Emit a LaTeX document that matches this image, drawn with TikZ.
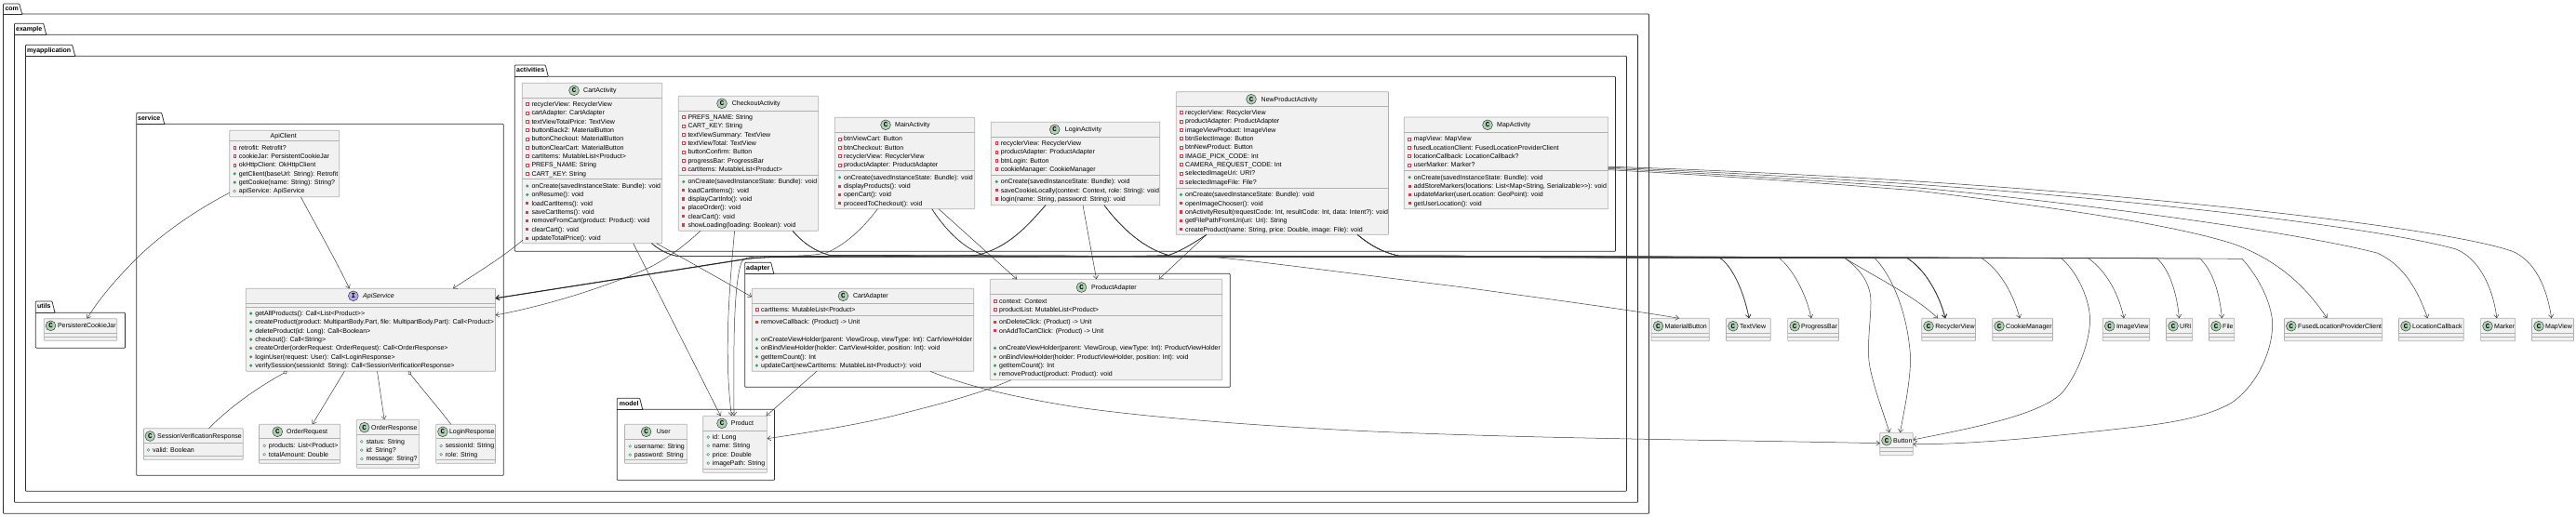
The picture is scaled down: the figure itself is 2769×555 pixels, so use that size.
\documentclass[tikz,border=0pt]{standalone}
\usepackage{fontspec}
\setmainfont{Liberation Sans}
\newfontfamily\umlmono{Liberation Mono}
\usetikzlibrary{arrows.meta}
\definecolor{boxfill}{HTML}{F1F1F1}
\definecolor{boxline}{HTML}{B0B0B0}
\definecolor{pkgline}{HTML}{303030}
\definecolor{connline}{HTML}{3C3C3C}
\definecolor{iconC}{HTML}{ADD1B2}
\definecolor{iconI}{HTML}{B4A7E5}
\definecolor{priv}{HTML}{D93A4C}
\definecolor{pub}{HTML}{3F9A68}
\tikzset{
  classbox/.style={draw=boxline,fill=boxfill,line width=.7pt,rounded corners=.8pt,inner sep=0pt,outer sep=0pt,anchor=north west},
  divider/.style={draw=boxline,line width=.7pt},
  pkgpath/.style={draw=pkgline,line width=.75pt,rounded corners=.8pt},
  pkgtitle/.style={font=\fontsize{7}{8}\selectfont\bfseries,anchor=base west,inner sep=0pt},
  classname/.style={font=\fontsize{7}{8}\selectfont,anchor=base west,inner sep=0pt},
  membertext/.style={font=\fontsize{7}{8}\selectfont,anchor=base west,inner sep=0pt},
  badge/.style={circle,draw=black!80,line width=.45pt,minimum size=10.8pt,inner sep=0pt,font=\fontsize{7.5}{8}\selectfont\umlmono\bfseries},
  conn/.style={draw=connline,line width=.5pt,-{Straight Barb[length=3.6pt,width=5.4pt]}},
  agg/.style={draw=connline,line width=.5pt,{Diamond[open,fill=white,length=5pt,width=4pt]}-},
  heavy/.style={line width=.8pt,draw=black!85}
}
\newcounter{umlc}
\newcommand\umlpkg[7]{% L tt T R B tabright title-x title
}
\newcommand\umlpackage[8]{% L,tt,T,R,B,tabR,textX,title
  \draw[pkgpath] (#1,#2) -- ({#6-3},#2) -- (#6,#3) -- (#4,#3) -- (#4,#5) -- (#1,#5) -- cycle;
  \draw[pkgpath] (#1,#3) -- (#6,#3);
  \stepcounter{umlc}
  \node[pkgtitle] (pk\arabic{umlc}) at (#7,{#2+7.7}) {#8};
}
\newcommand\umlbox[5]{% id x1 y1 x2 y2
  \pgfmathsetmacro\umlw{#4-#2}\pgfmathsetmacro\umlh{#5-#3}
  \node[classbox,minimum width=\umlw pt,minimum height=\umlh pt] (#1) at (#2,#3) {};
}
\newcommand\umldiv[3]{\draw[divider] (#1,#3) -- (#2,#3);}
\newcommand\umlhead[5]{% iconx icony letter namex name
  \stepcounter{umlc}
  \node[badge,fill=icon#3] (ic\arabic{umlc}) at (#1,#2) {#3};
  \node[classname] (nm\arabic{umlc}) at (#4,{#2+2.5}) {#5};
}
\newcommand\mstart[2]{\xdef\umlrx{#1}\xdef\umlry{#2}}
\newcommand\mgap{\pgfmathparse{\umlry+9.333}\xdef\umlry{\pgfmathresult}}
\newcommand\mrow[2]{%
  \stepcounter{umlc}
  \ifx#1f\draw[priv,line width=.55pt,fill=white] ({\umlrx-5.9},{\umlry-1.3}) rectangle ({\umlrx-3.1},{\umlry+1.5});\fi
  \ifx#1g\fill[priv] ({\umlrx-6.1},{\umlry-1.5}) rectangle ({\umlrx-2.9},{\umlry+1.7});\fi
  \ifx#1p\fill[pub] ({\umlrx-4.5},{\umlry+.1}) circle (1.7);\fi
  \ifx#1o\draw[pub,line width=.5pt,fill=white] ({\umlrx-4.5},{\umlry+.1}) circle (1.4);\fi
  \node[membertext] (mr\arabic{umlc}) at (\umlrx,{\umlry+2.5}) {#2};
  \mgap
}
\newcommand\freecls[3]{% id x1 x2 name
  \umlbox{#1}{#2}{342.3}{#3}{366.7}
  \umldiv{#2}{#3}{358.3}\umldiv{#2}{#3}{362.3}
}
\newcommand\freehead[3]{\umlhead{#1+7.4}{350.7}{C}{#1+14.5}{#3}}
\begin{document}
\begin{tikzpicture}[x=1pt,y=-1pt]
\useasboundingbox (0,0) rectangle (2769,555);
\fill[white] (0,0) rectangle (2769,555);
% packages
\umlpackage{3.5}{4}{15}{1772.5}{552.3}{23.7}{5.3}{com}
\umlpackage{15.5}{25.3}{37.3}{1760.5}{540.3}{49.7}{17}{example}
\umlpackage{27.5}{48.3}{60.3}{1748.4}{528.3}{80.7}{29}{myapplication}
\umlpackage{553.3}{70}{82.3}{1736.5}{270.3}{589.3}{555}{activities}
\umlpackage{146.7}{121.3}{133.3}{541.3}{511.3}{176.7}{148}{service}
\umlpackage{38.3}{324}{336.3}{134.5}{374.3}{59}{40}{utils}
\umlpackage{663.2}{428.3}{440.3}{832.5}{516.3}{690.7}{665.7}{model}
\umlpackage{800.7}{282.3}{294.3}{1322.3}{416.3}{831.8}{802}{adapter}

% ApiClient
\umlbox{apiclient}{246.7}{140.3}{364.7}{211.7}
\umldiv{246.7}{364.7}{151.7}
\node[classname] (apiclientname) at (290.5,148.5) {ApiClient};
\mstart{256.7}{158.7}
\mrow{f}{retrofit: Retrofit?}
\mrow{f}{cookieJar: PersistentCookieJar}
\mrow{f}{okHttpClient: OkHttpClient}
\mrow{p}{getClient(baseUrl: String): Retrofit}
\mrow{p}{getCookie(name: String): String?}
\mrow{o}{apiService: ApiService}

% ApiService
\umlbox{apiservice}{264.3}{310.3}{532.5}{399.3}
\umldiv{264.3}{532.5}{326.3}\umldiv{264.3}{532.5}{330.3}
\umlhead{379.8}{318.3}{I}{390}{\itshape ApiService}
\mstart{274.2}{337}
\mrow{p}{getAllProducts(): Call<List<Product>{}>}
\mrow{p}{createProduct(product: MultipartBody.Part, file: MultipartBody.Part): Call<Product>}
\mrow{p}{deleteProduct(id: Long): Call<Boolean>}
\mrow{p}{checkout(): Call<String>}
\mrow{p}{createOrder(orderRequest: OrderRequest): Call<OrderResponse>}
\mrow{p}{loginUser(request: User): Call<LoginResponse>}
\mrow{p}{verifySession(sessionId: String): Call<SessionVerificationResponse>}

% responses
\umlbox{svr}{154.4}{460.7}{261.2}{494.3}
\umldiv{154.4}{261.2}{476.3}\umldiv{154.4}{261.2}{490.3}
\umlhead{161.3}{469}{C}{169}{SessionVerificationResponse}
\mstart{164}{483.7}
\mrow{o}{valid: Boolean}

\umlbox{orderreq}{278.4}{456.3}{365.7}{498.3}
\umldiv{278.4}{365.7}{471.7}\umldiv{278.4}{365.7}{494.3}
\umlhead{298.3}{464.3}{C}{308}{OrderRequest}
\mstart{288.7}{479.3}
\mrow{o}{products: List<Product>}
\mrow{o}{totalAmount: Double}

\umlbox{orderresp}{383.3}{451.3}{450.6}{503.3}
\umldiv{383.3}{450.6}{467}\umldiv{383.3}{450.6}{499.3}
\umlhead{391.7}{459.7}{C}{399}{OrderResponse}
\mstart{393.3}{474.7}
\mrow{o}{status: String}
\mrow{o}{id: String?}
\mrow{o}{message: String?}

\umlbox{loginresp}{468.6}{456.3}{532.5}{498.3}
\umldiv{468.6}{532.5}{471.7}\umldiv{468.6}{532.5}{494.3}
\umlhead{475.9}{464.3}{C}{482.8}{LoginResponse}
\mstart{478.6}{479.3}
\mrow{o}{sessionId: String}
\mrow{o}{role: String}

% PersistentCookieJar
\umlbox{pcj}{47.3}{342.7}{125.7}{366.3}
\umldiv{47.3}{125.7}{358.3}\umldiv{47.3}{125.7}{362.3}
\umlhead{54.5}{350.3}{C}{61.8}{PersistentCookieJar}

% CartActivity
\umlbox{cart}{561.3}{89.3}{711.7}{261.7}
\umldiv{561.3}{711.7}{105.3}\umldiv{561.3}{711.7}{192.3}
\umlhead{617}{97.3}{C}{627}{CartActivity}
\mstart{571.3}{112}
\mrow{f}{recyclerView: RecyclerView}
\mrow{f}{cartAdapter: CartAdapter}
\mrow{f}{textViewTotalPrice: TextView}
\mrow{f}{buttonBack2: MaterialButton}
\mrow{f}{buttonCheckout: MaterialButton}
\mrow{f}{buttonClearCart: MaterialButton}
\mrow{f}{cartItems: MutableList<Product>}
\mrow{f}{PREFS\_NAME: String}
\mrow{f}{CART\_KEY: String}
\mstart{571.3}{200}
\mrow{p}{onCreate(savedInstanceState: Bundle): void}
\mrow{p}{onResume(): void}
\mrow{g}{loadCartItems(): void}
\mrow{g}{saveCartItems(): void}
\mrow{g}{removeFromCart(product: Product): void}
\mrow{g}{clearCart(): void}
\mrow{g}{updateTotalPrice(): void}

% CheckoutActivity
\umlbox{checkout}{729.3}{103.3}{879.7}{248.3}
\umldiv{729.3}{879.7}{119.3}\umldiv{729.3}{879.7}{188.3}
\umlhead{776}{111.3}{C}{786.7}{CheckoutActivity}
\mstart{739.3}{126}
\mrow{f}{PREFS\_NAME: String}
\mrow{f}{CART\_KEY: String}
\mrow{f}{textViewSummary: TextView}
\mrow{f}{textViewTotal: TextView}
\mrow{f}{buttonConfirm: Button}
\mrow{f}{progressBar: ProgressBar}
\mrow{f}{cartItems: MutableList<Product>}
\mstart{739.3}{195.3}
\mrow{p}{onCreate(savedInstanceState: Bundle): void}
\mrow{g}{loadCartItems(): void}
\mrow{g}{displayCartInfo(): void}
\mrow{g}{placeOrder(): void}
\mrow{g}{clearCart(): void}
\mrow{g}{showLoading(loading: Boolean): void}

% MainActivity
\umlbox{main}{897.3}{126.3}{1047.7}{224.7}
\umldiv{897.3}{1047.7}{142.3}\umldiv{897.3}{1047.7}{183.7}
\umlhead{952}{134.3}{C}{962}{MainActivity}
\mstart{907}{149.3}
\mrow{f}{btnViewCart: Button}
\mrow{f}{btnCheckout: Button}
\mrow{f}{recyclerView: RecyclerView}
\mrow{f}{productAdapter: ProductAdapter}
\mstart{907}{190.7}
\mrow{p}{onCreate(savedInstanceState: Bundle): void}
\mrow{g}{displayProducts(): void}
\mrow{g}{openCart(): void}
\mrow{g}{proceedToCheckout(): void}

% LoginActivity
\umlbox{login}{1065.3}{131.3}{1246.8}{220.7}
\umldiv{1065.3}{1246.8}{147.3}\umldiv{1065.3}{1246.8}{188.3}
\umlhead{1133.7}{139.3}{C}{1144.7}{LoginActivity}
\mstart{1075.7}{154}
\mrow{f}{recyclerView: RecyclerView}
\mrow{f}{productAdapter: ProductAdapter}
\mrow{f}{btnLogin: Button}
\mrow{f}{cookieManager: CookieManager}
\mstart{1075.7}{195.3}
\mrow{p}{onCreate(savedInstanceState: Bundle): void}
\mrow{g}{saveCookieLocally(context: Context, role: String): void}
\mrow{g}{login(name: String, password: String): void}

% NewProductActivity
\umlbox{newprod}{1264.3}{98.7}{1492.5}{252.3}
\umldiv{1264.3}{1492.5}{114.3}\umldiv{1264.3}{1492.5}{202.3}
\umlhead{1345}{106.7}{C}{1355.5}{NewProductActivity}
\mstart{1274}{121}
\mrow{f}{recyclerView: RecyclerView}
\mrow{f}{productAdapter: ProductAdapter}
\mrow{f}{imageViewProduct: ImageView}
\mrow{f}{btnSelectImage: Button}
\mrow{f}{btnNewProduct: Button}
\mrow{f}{IMAGE\_PICK\_CODE: Int}
\mrow{f}{CAMERA\_REQUEST\_CODE: Int}
\mrow{f}{selectedImageUri: URI?}
\mrow{f}{selectedImageFile: File?}
\mstart{1274}{209.3}
\mrow{p}{onCreate(savedInstanceState: Bundle): void}
\mrow{g}{openImageChooser(): void}
\mrow{g}{onActivityResult(requestCode: Int, resultCode: Int, data: Intent?): void}
\mrow{g}{getFilePathFromUri(uri: Uri): String}
\mrow{g}{createProduct(name: String, price: Double, image: File): void}

% MapActivity
\umlbox{map}{1509.3}{126}{1728.6}{224.7}
\umldiv{1509.3}{1728.6}{142.3}\umldiv{1509.3}{1728.6}{183.3}
\umlhead{1599}{134.3}{C}{1609}{MapActivity}
\mstart{1519.6}{149.3}
\mrow{f}{mapView: MapView}
\mrow{f}{fusedLocationClient: FusedLocationProviderClient}
\mrow{f}{locationCallback: LocationCallback?}
\mrow{f}{userMarker: Marker?}
\mstart{1519.6}{190.7}
\mrow{p}{onCreate(savedInstanceState: Bundle): void}
\mrow{g}{addStoreMarkers(locations: List<Map<String, Serializable>{}>): void}
\mrow{g}{updateMarker(userLocation: GeoPoint): void}
\mrow{g}{getUserLocation(): void}

% CartAdapter
\umlbox{cartadapter}{808.2}{310.3}{1046.8}{399.3}
\umldiv{808.2}{1046.8}{326.3}\umldiv{808.2}{1046.8}{339.7}
\umlhead{906.4}{318.3}{C}{916.8}{CartAdapter}
\mstart{817.9}{333}
\mrow{f}{cartItems: MutableList<Product>}
\mstart{817.9}{346.3}
\mrow{g}{removeCallback: (Product) -> Unit}
\mstart{817.9}{365}
\mrow{p}{onCreateViewHolder(parent: ViewGroup, viewType: Int): CartViewHolder}
\mrow{p}{onBindViewHolder(holder: CartViewHolder, position: Int): void}
\mrow{p}{getItemCount(): Int}
\mrow{p}{updateCart(newCartItems: MutableList<Product>): void}

% ProductAdapter
\umlbox{prodadapter}{1064.3}{300.3}{1313.7}{408.7}
\umldiv{1064.3}{1313.7}{316.3}\umldiv{1064.3}{1313.7}{339.7}
\umlhead{1162.5}{309}{C}{1172.9}{ProductAdapter}
\mstart{1074}{323.7}
\mrow{f}{context: Context}
\mrow{f}{productList: MutableList<Product>}
\mstart{1074}{346.3}
\mrow{g}{onDeleteClick: (Product) -> Unit}
\mrow{g}{onAddToCartClick: (Product) -> Unit}
\mstart{1074}{374.3}
\mrow{p}{onCreateViewHolder(parent: ViewGroup, viewType: Int): ProductViewHolder}
\mrow{p}{onBindViewHolder(holder: ProductViewHolder, position: Int): void}
\mrow{p}{getItemCount(): Int}
\mrow{p}{removeProduct(product: Product): void}

% model
\umlbox{user}{671.4}{456.3}{738.6}{498.3}
\umldiv{671.4}{738.6}{472.3}\umldiv{671.4}{738.6}{494.3}
\umlhead{694.6}{464.3}{C}{705.7}{User}
\mstart{681.7}{479.7}
\mrow{o}{username: String}
\mrow{o}{password: String}

\umlbox{product}{755.7}{447.3}{824.6}{508.3}
\umldiv{755.7}{824.6}{463.3}\umldiv{755.7}{824.6}{504.3}
\umlhead{776}{455.3}{C}{785.7}{Product}
\mstart{765.7}{470}
\mrow{o}{id: Long}
\mrow{o}{name: String}
\mrow{o}{price: Double}
\mrow{o}{imagePath: String}

% free classes
\freecls{materialbutton}{1775}{1837.2}\umlhead{1782.4}{350.7}{C}{1789.5}{MaterialButton}
\freecls{textview}{1855.5}{1903.3}\umlhead{1862.9}{350.7}{C}{1870}{TextView}
\freecls{progressbar}{1921.6}{1976.5}\umlhead{1929.2}{350.7}{C}{1936}{ProgressBar}
\freecls{recyclerview}{2065.7}{2123.4}\umlhead{2073}{350.7}{C}{2080.2}{RecyclerView}
\freecls{cookiemanager}{2141.7}{2206.5}\umlhead{2149}{350.7}{C}{2156}{CookieManager}
\freecls{imageview}{2260.3}{2310.8}\umlhead{2267.7}{350.7}{C}{2274.8}{ImageView}
\freecls{uri}{2328.5}{2356.8}\umlhead{2336}{350.7}{C}{2343}{URI}
\freecls{file}{2374.5}{2401.7}\umlhead{2382}{350.7}{C}{2389}{File}
\freecls{fused}{2455.4}{2560.8}\umlhead{2462.8}{350.7}{C}{2470}{FusedLocationProviderClient}
\freecls{locationcb}{2578.5}{2648.3}\umlhead{2586}{350.7}{C}{2593}{LocationCallback}
\freecls{marker}{2666.6}{2703.8}\umlhead{2674}{350.7}{C}{2681}{Marker}
\freecls{mapview}{2721.5}{2766.4}\umlhead{2729}{350.7}{C}{2736}{MapView}
\umlbox{button}{2020.8}{465.3}{2056.3}{489.7}
\umldiv{2020.8}{2056.3}{481.7}\umldiv{2020.8}{2056.3}{485.7}
\umlhead{2028}{473.7}{C}{2035}{Button}

% connectors: service
\draw[conn] (apiclient.west |- 0,207.3) .. controls (205,229) and (170,255) .. (145.7,279) .. controls (122,303) and (104,325) .. (93.6,0 |- pcj.north);
\draw[conn] (323.3,0 |- apiclient.south) .. controls (340,243) and (360,278) .. (375.6,0 |- apiservice.north);
\draw[agg] (308.7,0 |- apiservice.south) .. controls (280,415) and (250,435) .. (224.5,0 |- svr.north);
\draw[conn] (370.3,0 |- apiservice.south) -- (335.8,0 |- orderreq.north);
\draw[conn] (405.5,0 |- apiservice.south) -- (413.1,0 |- orderresp.north);
\draw[agg] (438.8,0 |- apiservice.south) .. controls (455,420) and (470,437) .. (484.7,0 |- loginresp.north);

% activities to service / model / adapters
\draw[conn] (561.8,258.3) .. controls (540,277) and (510,295) .. (487,0 |- apiservice.north);
\draw[conn] (680.7,0 |- cart.south) -- (774.6,0 |- product.north);
\draw[conn] (705.7,0 |- cart.south) -- (cartadapter.west |- 0,319.3);
\draw[conn] (752.9,0 |- checkout.south) .. controls (735,265) and (715,280) .. (693,290) .. controls (640,313) and (580,330) .. (apiservice.east |- 0,339);
\draw[conn] (789.6,0 |- checkout.south) .. controls (784,310) and (778,380) .. (786.4,0 |- product.north);
\draw[conn] (943.3,0 |- main.south) .. controls (932,240) and (912,262) .. (888,272) .. controls (870,276) and (840,275) .. (815,276) .. controls (803,276.5) and (800,277) .. (797,282) .. controls (787,310) and (789,400) .. (789,0 |- product.north);
\draw[conn] (1009,0 |- main.south) -- (1093,0 |- prodadapter.north);
\draw[conn] (1164,0 |- login.south) -- (1178.6,0 |- prodadapter.north);
\draw[conn] (1297,0 |- newprod.south) -- (1245.7,0 |- prodadapter.north);
\draw[conn,heavy] (1124,0 |- login.south) .. controls (1105,242) and (1085,266) .. (1050,274.5) .. controls (1000,276) and (880,275.5) .. (830,276.5) .. controls (815,277) and (805,278) .. (798,279) -- (apiservice.east |- 0,320.7);
\draw[conn,heavy] (1297,0 |- newprod.south) .. controls (1285,260) and (1270,270) .. (1256,274.5) .. controls (1200,277) and (900,276) .. (830,276.5) .. controls (815,277) and (805,278) .. (798,279.3) -- (apiservice.east |- 0,320.9);
\draw[conn] (877.9,0 |- cartadapter.south) -- (823.6,0 |- product.north);
\draw[conn] (1086.7,0 |- prodadapter.south) .. controls (1050,425) and (1000,437) .. (960,447.3) .. controls (920,457) and (870,465) .. (product.east |- 0,471.7);
\draw[conn] (1000,0 |- cartadapter.south) .. controls (1050,420) and (1120,432) .. (1160,438.3) .. controls (1260,452) and (1380,459) .. (1460,463.3) .. controls (1650,472) and (1850,473) .. (button.west |- 0,476.7);

% the long bus to the external classes
\def\fromCart{(700.4,0 |- cart.south) .. controls (708,268) and (716,273) .. (728,275.5)}
\def\fromCheckout{(852,0 |- checkout.south) .. controls (862,260) and (875,270) .. (892,274.5)}
\def\fromMain{(1001.7,0 |- main.south) .. controls (1015,245) and (1035,268) .. (1060,275)}
\def\fromLogin{(1187,0 |- login.south) .. controls (1205,245) and (1230,268) .. (1258,275)}
\def\fromNew{(1459,0 |- newprod.south) .. controls (1472,263) and (1485,271) .. (1503,275)}
\draw[conn] \fromCart -- (1300,276.3) .. controls (1330,278) and (1420,290) .. (1573,309) .. controls (1660,321) and (1750,333) .. (1805,0 |- materialbutton.north);
\draw[conn] \fromCart -- (1848,277) .. controls (1862,285) and (1875,315) .. (1880,0 |- textview.north);
\draw[conn] \fromCheckout -- (1848,277.2) .. controls (1862,285) and (1875,315) .. (1880,0 |- textview.north);
\draw[conn] \fromCheckout -- (1912.5,277.5) .. controls (1928,290) and (1942,318) .. (1947,0 |- progressbar.north);
\draw[conn] \fromMain -- (1983,277.5) .. controls (2000,290) and (2011,305) .. (2011,325) .. controls (2011,345) and (2006,375) .. (2010,395) .. controls (2015,420) and (2025,445) .. (2031,0 |- button.north);
\draw[conn] \fromCheckout -- (2015,277.5) .. controls (2030,292) and (2050,330) .. (2053.5,383) .. controls (2054,410) and (2046,445) .. (2042.5,0 |- button.north);
\draw[conn] \fromMain -- (1983,277.7) .. controls (2020,300) and (2060,320) .. (2083,0 |- recyclerview.north);
\draw[conn] \fromCart -- (2050,277.5) .. controls (2070,290) and (2085,318) .. (2091,0 |- recyclerview.north);
\draw[conn] \fromLogin -- (2050,277.6) .. controls (2070,290) and (2085,318) .. (2091,0 |- recyclerview.north);
\draw[conn] \fromNew -- (2050,277.7) .. controls (2070,290) and (2085,318) .. (2091,0 |- recyclerview.north);
\draw[conn] \fromLogin -- (2130,277.7) .. controls (2150,290) and (2165,318) .. (2171,0 |- cookiemanager.north);
\draw[conn] \fromLogin -- (2216,277.8) .. controls (2235,295) and (2247,325) .. (2246.5,345) .. controls (2246,370) and (2232,405) .. (2216,423) .. controls (2190,448) and (2110,462) .. (button.east |- 0,473);
\draw[conn] \fromNew -- (2245,277.9) .. controls (2265,292) and (2278,318) .. (2283,0 |- imageview.north);
\draw[conn] \fromNew -- (2318.5,277.8) .. controls (2332,290) and (2340,315) .. (2342.4,0 |- uri.north);
\draw[conn] \fromNew -- (2364.5,277.9) .. controls (2378,290) and (2386,315) .. (2388.4,0 |- file.north);
\draw[conn] \fromNew -- (2410,278.3) .. controls (2430,300) and (2443,330) .. (2442.7,350) .. controls (2442,380) and (2425,415) .. (2399,433) .. controls (2370,450) and (2325,456) .. (2288,460) .. controls (2200,470) and (2120,478) .. (button.east |- 0,477.7);

% MapActivity
\draw[conn] (map.east |- 0,179.3) .. controls (1800,181) and (1950,188) .. (2060,195) .. controls (2300,210) and (2620,243) .. (2700,270) .. controls (2725,280) and (2738,310) .. (2742.6,0 |- mapview.north);
\draw[conn] (map.east |- 0,180.3) .. controls (1800,182.5) and (1950,191) .. (2060,198.3) .. controls (2300,215) and (2560,245) .. (2640,268) .. controls (2665,278) and (2680,310) .. (2683.8,0 |- marker.north);
\draw[conn] (map.east |- 0,181.5) .. controls (1800,184) and (1950,194) .. (2060,201.7) .. controls (2250,220) and (2470,250) .. (2555,272) .. controls (2585,285) and (2600,315) .. (2609.5,0 |- locationcb.north);
\draw[conn] (map.east |- 0,182.7) .. controls (1800,186) and (1950,196) .. (2060,205) .. controls (2200,222) and (2330,240) .. (2400,262) .. controls (2450,280) and (2480,310) .. (2501.4,0 |- fused.north);
\end{tikzpicture}
\end{document}
